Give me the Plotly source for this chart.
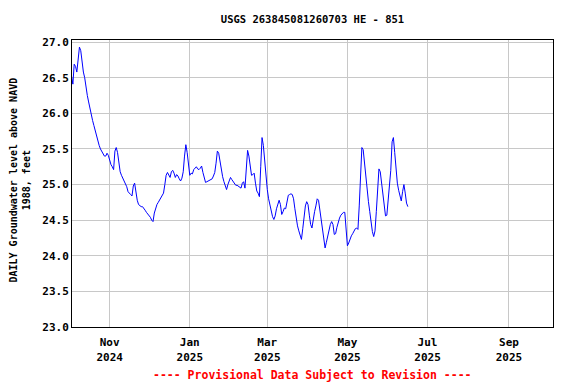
import pandas as pd
import plotly.graph_objects as go

start_date = "2024-10-03"
levels = [
    26.52, 26.41, 26.69, 26.66, 26.58, 26.76, 26.93, 26.88, 26.67, 26.58,
    26.50, 26.36, 26.25, 26.16, 26.06, 25.98, 25.90, 25.83, 25.75, 25.67,
    25.62, 25.55, 25.50, 25.46, 25.42, 25.40, 25.40, 25.44, 25.41, 25.33,
    25.28, 25.25, 25.21, 25.47, 25.52, 25.45, 25.30, 25.18, 25.13, 25.09,
    25.06, 25.02, 24.97, 24.90, 24.87, 24.86, 24.84, 24.98, 25.02, 24.86,
    24.78, 24.72, 24.70, 24.69, 24.69, 24.67, 24.64, 24.61, 24.59, 24.56,
    24.54, 24.50, 24.48, 24.60, 24.68, 24.72, 24.75, 24.78, 24.81, 24.85,
    24.88, 25.00, 25.13, 25.17, 25.12, 25.10, 25.18, 25.20, 25.16, 25.10,
    25.14, 25.12, 25.08, 25.05, 25.09, 25.18, 25.40, 25.56, 25.45, 25.28,
    25.13, 25.16, 25.15, 25.21, 25.24, 25.25, 25.22, 25.21, 25.23, 25.26,
    25.17, 25.11, 25.03, 25.04, 25.05, 25.06, 25.07, 25.08, 25.12, 25.17,
    25.30, 25.47, 25.44, 25.32, 25.20, 25.11, 25.04, 24.98, 24.93, 25.00,
    25.06, 25.10, 25.07, 25.04, 25.02, 24.99, 24.99, 24.98, 24.96, 24.95,
    25.02, 25.04, 24.95, 25.25, 25.48, 25.40, 25.22, 25.13, 25.14, 25.16,
    25.02, 24.91, 24.88, 24.83, 25.25, 25.66, 25.55, 25.30, 25.10, 24.93,
    24.80, 24.70, 24.61, 24.55, 24.51, 24.56, 24.66, 24.74, 24.78, 24.72,
    24.58, 24.62, 24.67, 24.66, 24.75, 24.85, 24.86, 24.87, 24.86, 24.80,
    24.66, 24.52, 24.42, 24.35, 24.28, 24.23, 24.38, 24.55, 24.70, 24.76,
    24.72, 24.57, 24.44, 24.39, 24.52, 24.62, 24.70, 24.80, 24.78, 24.65,
    24.50, 24.34, 24.20, 24.11, 24.19, 24.29, 24.37, 24.44, 24.48, 24.44,
    24.30, 24.31, 24.40, 24.48, 24.53, 24.57, 24.60, 24.61, 24.61, 24.35,
    24.14, 24.18, 24.24, 24.28, 24.31, 24.35, 24.38, 24.39, 24.37, 24.70,
    25.15, 25.52, 25.49, 25.28, 25.10, 24.92, 24.76, 24.62, 24.45, 24.34,
    24.27, 24.35, 24.62, 24.96, 25.22, 25.18, 25.03, 24.85, 24.68, 24.56,
    24.57, 24.80, 24.98, 25.20, 25.60, 25.66, 25.45, 25.22, 25.02, 24.92,
    24.83, 24.77, 24.90, 25.00, 24.88, 24.74, 24.69,
]
dates = pd.date_range(start_date, periods=len(levels), freq="D")

tick_dates = ["2024-11-01", "2025-01-01", "2025-03-01", "2025-05-01", "2025-07-01", "2025-09-01"]
tick_labels = ["Nov<br>2024", "Jan<br>2025", "Mar<br>2025", "May<br>2025", "Jul<br>2025", "Sep<br>2025"]
y_ticks = [23.0, 23.5, 24.0, 24.5, 25.0, 25.5, 26.0, 26.5, 27.0]

title_text = "USGS 263845081260703 HE - 851"
y_title = "DAILY Groundwater level above NAVD<br>1988, feet"
footer_text = "---- Provisional Data Subject to Revision ----"

MONO = "DejaVu Sans Mono"

fig = go.Figure()
fig.add_trace(go.Scatter(
    x=dates, y=levels, mode="lines",
    line=dict(color="#0000FF", width=1),
    hoverinfo="x+y", showlegend=False,
))

fig.update_layout(
    width=576, height=384,
    margin=dict(l=72, r=23, t=40, b=57),
    paper_bgcolor="white", plot_bgcolor="white",
    font=dict(family=MONO, color="black"),
    title=dict(text="<b>" + title_text + "</b>", x=(72 + 553) / 2 / 576, xanchor="center",
               y=1 - 19 / 384, yanchor="middle", font=dict(size=10.5, family=MONO)),
)

fig.update_xaxes(
    type="date",
    range=["2024-10-03 08:00", "2025-10-04 12:00"],
    tickvals=tick_dates, ticktext=["<b>" + t.replace("<br>", "</b><br><b>") + "</b>" for t in tick_labels],
    showgrid=True, gridcolor="#C8C8C8", gridwidth=1,
    showline=True, linecolor="black", linewidth=1, mirror=True,
    ticks="", tickfont=dict(size=11, family=MONO), ticklabelstandoff=5,
    zeroline=False,
)
fig.update_yaxes(
    range=[23.0, 27.03],
    tickvals=y_ticks, ticktext=["<b>%.1f</b>" % v for v in y_ticks],
    showgrid=True, gridcolor="#C8C8C8", gridwidth=1,
    showline=True, linecolor="black", linewidth=1, mirror=True,
    ticks="", tickfont=dict(size=11, family=MONO),
    zeroline=False,
)

fig.add_annotation(
    text="<b>" + y_title.replace("<br>", "</b><br><b>") + "</b>",
    textangle=-90, xref="paper", yref="paper", x=0, y=0.5,
    xanchor="center", yanchor="middle", xshift=-53, yshift=3, showarrow=False,
    font=dict(size=10, family=MONO, color="black"),
)
fig.add_annotation(
    text="<b>" + footer_text + "</b>",
    xref="paper", yref="paper", x=0.5, y=0, yshift=-48,
    xanchor="center", yanchor="middle", showarrow=False,
    font=dict(size=11.5, family=MONO, color="#FF0000"),
)

fig.write_html(
    "out.html",
    config={"displayModeBar": False},
    post_script="document.body.style.margin='0';document.body.style.padding='0';",
)
